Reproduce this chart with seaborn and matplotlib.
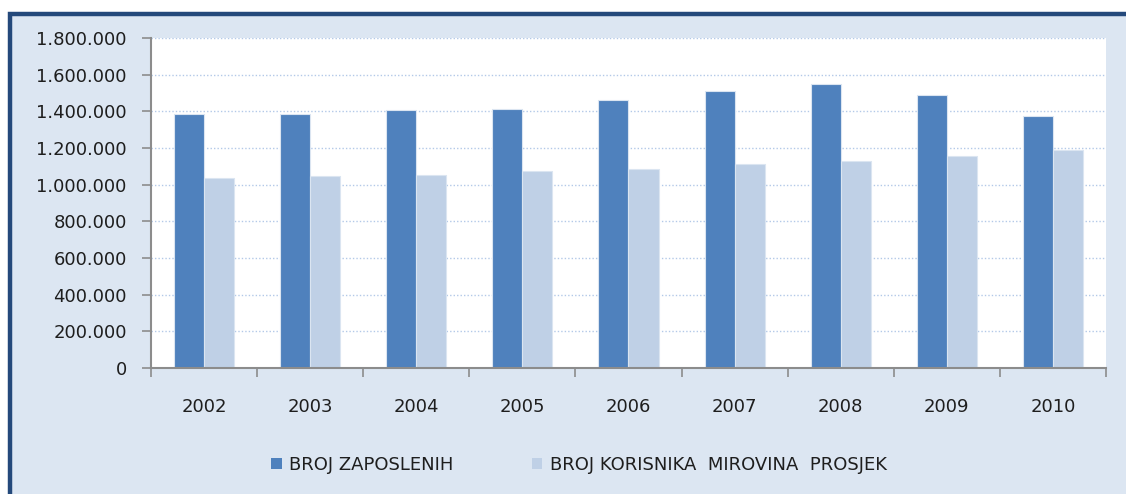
import matplotlib
matplotlib.use("Agg")
import matplotlib.pyplot as plt
import matplotlib.ticker as mticker
from matplotlib.patches import Rectangle
import seaborn as sns
import pandas as pd

years = ["2002", "2003", "2004", "2005", "2006", "2007", "2008", "2009", "2010"]
zaposleni = [1387000, 1387000, 1405000, 1415000, 1462000, 1511000, 1547000, 1491000, 1376000]
korisnici = [1036000, 1045000, 1055000, 1075000, 1084000, 1111000, 1129000, 1158000, 1187000]
series_names = ["BROJ ZAPOSLENIH", "BROJ KORISNIKA  MIROVINA  PROSJEK"]
colors = ["#4f81bd", "#bfd0e6"]
yticks = [0, 200000, 400000, 600000, 800000, 1000000, 1200000, 1400000, 1600000, 1800000]

df = pd.DataFrame({
    "year": years * 2,
    "value": zaposleni + korisnici,
    "series": [series_names[0]] * len(years) + [series_names[1]] * len(years),
})

sns.set_theme(style="white")
plt.rcParams["font.family"] = ["DejaVu Sans"]

W, H = 1126, 494
fig = plt.figure(figsize=(W / 100, H / 100), dpi=100, facecolor="white")

# outer chart area with border
bg = Rectangle((10 / W, -0.2), 1.5, 1 - 14 / H + 0.2, transform=fig.transFigure,
               facecolor="#dce6f2", edgecolor="#24497b", linewidth=3.2, zorder=-10)
fig.patches.append(bg)

ax = fig.add_axes([151 / W, 1 - 368 / H, 955 / W, 330 / H])
ax.set_zorder(1)
ax.set_facecolor("white")

sns.barplot(data=df, x="year", y="value", hue="series", palette=colors, saturation=1,
            width=0.566, edgecolor="#dbe5f1", linewidth=0.8, ax=ax, legend=False)

ax.set_ylim(0, 1800000)
ax.set_xlim(-0.5, len(years) - 0.5)
ax.set_yticks(yticks)
ax.yaxis.set_major_formatter(mticker.FuncFormatter(lambda v, p: f"{int(v):,}".replace(",", ".")))
ax.set_xlabel("")
ax.set_ylabel("")

ax.set_axisbelow(True)
ax.yaxis.grid(True, linestyle=(0, (1, 1.5)), color="#b3c9e8", linewidth=1.0)
ax.xaxis.grid(False)

for s in ["top", "right"]:
    ax.spines[s].set_visible(False)
for s in ["left", "bottom"]:
    ax.spines[s].set_color("#8c8c8c")
    ax.spines[s].set_linewidth(1.5)

ax.tick_params(axis="y", which="major", length=6.5, width=1.2, color="#8c8c8c",
               direction="out", pad=11, labelsize=13, labelcolor="#1e1e1e", left=True)
ax.tick_params(axis="x", which="major", length=0, pad=21.5, labelsize=13, labelcolor="#1e1e1e")
ax.set_xticks([i - 0.5 for i in range(len(years) + 1)], minor=True)
ax.tick_params(axis="x", which="minor", length=6.5, width=1.2, color="#8c8c8c",
               direction="out", bottom=True)

handles = [Rectangle((0, 0), 1, 1, facecolor=c, edgecolor="none") for c in colors]
fig.legend(handles, series_names, loc="center", bbox_to_anchor=(579 / W, 1 - 465 / H),
           ncol=2, frameon=False, fontsize=13, handlelength=0.6, handleheight=0.6,
           handletextpad=0.4, columnspacing=4.3, labelcolor="#1e1e1e")

fig.savefig("out.png", dpi=100, facecolor="white")
